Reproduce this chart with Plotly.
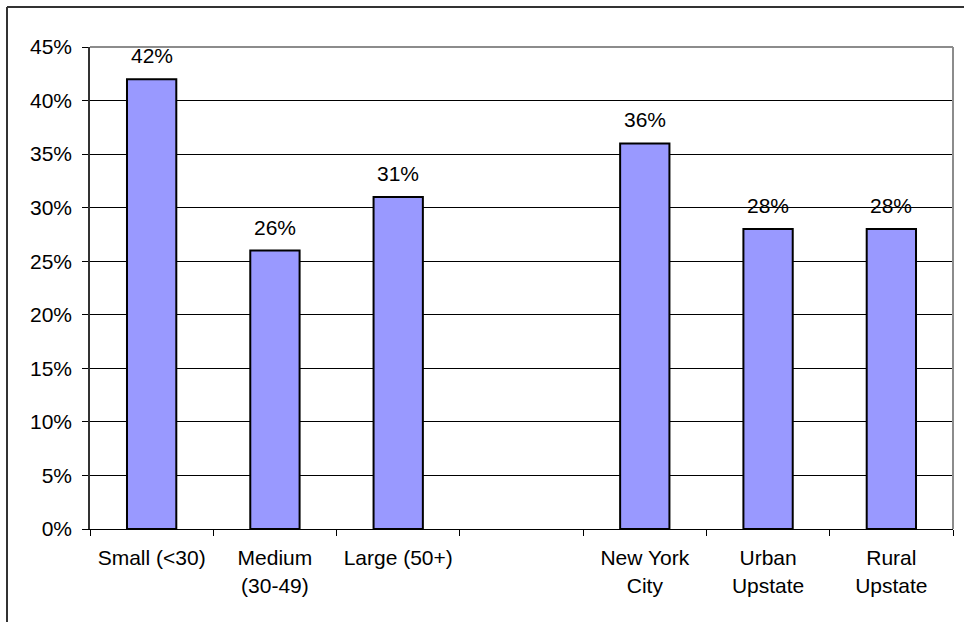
import plotly.graph_objects as go

categories = ["Small (<30)", "Medium<br>(30-49)", "Large (50+)", " ", "New York<br>City", "Urban<br>Upstate", "Rural<br>Upstate"]
values = [42, 26, 31, None, 36, 28, 28]
y_ticks = [0, 5, 10, 15, 20, 25, 30, 35, 40, 45]
y_ticktext = [f"{t}%" for t in y_ticks]

FONT = "Liberation Sans, Arial, sans-serif"
FS = 21

fig = go.Figure()
fig.add_trace(go.Bar(
    x=categories, y=values,
    marker=dict(color="#9999FF", line=dict(color="black", width=2)),
    width=0.4, hoverinfo="skip",
))

for c, v in zip(categories, values):
    if v is None:
        continue
    fig.add_annotation(x=c, y=v, text=f"{v}%", showarrow=False, yanchor="bottom",
                       yshift=10, font=dict(family=FONT, size=FS, color="black"))

L, R, T, B = 90, 11, 47, 93
W, H = 964, 622
pw, ph = W - L - R, H - T - B

fig.update_layout(
    width=W, height=H,
    margin=dict(l=L, r=R, t=T, b=B, pad=0),
    paper_bgcolor="white", plot_bgcolor="white",
    showlegend=False,
    font=dict(family=FONT, size=FS, color="black"),
)
fig.update_xaxes(
    type="category", tickson="boundaries", ticks="outside", ticklen=6,
    tickcolor="black", showline=True, linecolor="black", linewidth=1,
    showgrid=False, tickfont=dict(family=FONT, size=FS, color="black"),
    range=[-0.5, 6.5], fixedrange=True, ticklabelstandoff=10,
)
fig.update_yaxes(
    range=[0, 45], tickvals=y_ticks, ticktext=y_ticktext,
    ticks="outside", ticklen=6, tickcolor="black",
    showline=True, linecolor="#333333", linewidth=1.5,
    showgrid=True, gridcolor="black", gridwidth=1, zeroline=False,
    tickfont=dict(family=FONT, size=FS, color="black"),
    ticklabelstandoff=6, fixedrange=True,
)

# plot-area border (gray top and right)
fig.add_shape(type="line", xref="paper", yref="paper", x0=0, x1=1, y0=1, y1=1,
              line=dict(color="#8c8c8c", width=2))
fig.add_shape(type="line", xref="paper", yref="paper", x0=1, x1=1, y0=0, y1=1,
              line=dict(color="#8c8c8c", width=2))
# outer chart frame (top and left)
fx = (7 - L) / pw
fy = (H - B - 7) / ph
fig.add_shape(type="line", xref="paper", yref="paper", x0=fx, x1=(W + 5 - L) / pw, y0=fy, y1=fy,
              line=dict(color="#333333", width=2))
fig.add_shape(type="line", xref="paper", yref="paper", x0=fx, x1=fx, y0=fy, y1=-(B + 5) / ph,
              line=dict(color="#333333", width=2))

fig.write_html("out.html", config={"displayModeBar": False},
               post_script="document.body.style.margin='0';document.body.style.overflow='hidden';")
